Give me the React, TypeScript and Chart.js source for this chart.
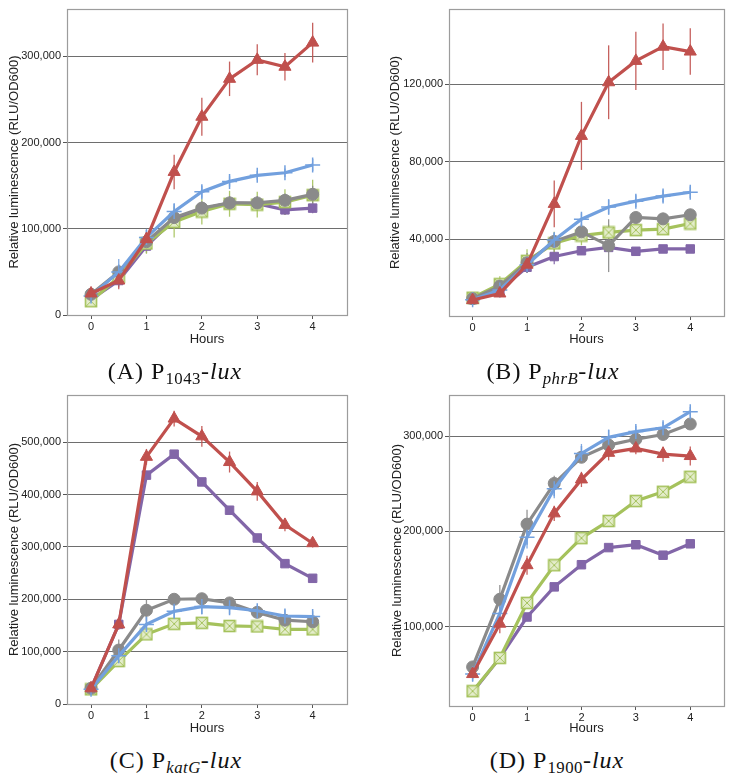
import React, { useEffect, useRef } from 'react';
import { Chart, registerables } from 'chart.js';

Chart.register(...registerables);

// ---------------- data ----------------
const hours = [0, 0.5, 1, 1.5, 2, 2.5, 3, 3.5, 4];
const hourTicks = [0, 1, 2, 3, 4];

// Panel A: P1043-lux
const aRed = [25000, 40000, 88000, 166000, 230000, 274000, 296000, 288000, 316000];
const aRedErr = [3000, 10000, 8000, 20000, 22000, 20000, 18000, 16000, 23000];
const aBlue = [22000, 50000, 90000, 120000, 143000, 155000, 162000, 165000, 174000];
const aBlueErr = [3000, 15000, 10000, 10000, 7000, 6000, 5000, 5000, 7000];
const aGray = [24000, 50000, 85000, 113000, 124000, 130000, 130000, 133000, 140000];
const aGrayErr = [3000, 8000, 8000, 8000, 8000, 8000, 8000, 8000, 10000];
const aGreen = [16000, 44000, 83000, 108000, 120000, 129000, 128000, 131000, 139000];
const aGreenErr = [3000, 10000, 12000, 18000, 15000, 15000, 15000, 15000, 18000];
const aPurple = [18000, 40000, 80000, 111000, 123000, 130000, 129000, 122000, 124000];
const aPurpleErr = [3000, 8000, 8000, 8000, 8000, 8000, 8000, 6000, 6000];
const aTicks = [0, 100000, 200000, 300000];

// Panel B: PphrB-lux
const bRed = [8800, 12200, 27000, 58300, 93300, 120900, 131900, 139200, 136700];
const bRedErr = [1000, 2000, 4000, 12000, 17500, 19000, 15000, 12000, 12000];
const bBlue = [9000, 14000, 27000, 39700, 50400, 56700, 59700, 62300, 64300];
const bBlueErr = [1000, 2000, 4000, 4000, 3000, 4000, 3000, 3000, 3000];
const bGray = [9500, 16000, 28000, 39000, 43900, 36800, 51300, 50600, 52700];
const bGrayErr = [1000, 2000, 5000, 4000, 4000, 13600, 2000, 1000, 1000];
const bGreen = [10000, 17000, 29000, 38000, 42000, 43600, 44800, 45300, 48200];
const bGreenErr = [1000, 4000, 6000, 6000, 5000, 4000, 3000, 3000, 3000];
const bPurple = [9000, 14000, 25700, 31200, 34200, 35900, 33900, 35100, 35100];
const bPurpleErr = [1000, 2000, 3000, 4000, 2000, 2000, 1000, 1000, 1000];
const bTicks = [40000, 80000, 120000];

// Panel C: PkatG-lux
const cRed = [30000, 152000, 472000, 545000, 511000, 462000, 406000, 342000, 307000];
const cRedErr = [5000, 10000, 15000, 15000, 20000, 20000, 18000, 12000, 8000];
const cBlue = [28000, 92000, 152000, 177000, 186000, 184000, 178000, 168000, 167000];
const cBlueErr = [8000, 20000, 20000, 20000, 15000, 12000, 10000, 12000, 10000];
const cGray = [30000, 103000, 179000, 200000, 201000, 193000, 175000, 160000, 157000];
const cGrayErr = [5000, 20000, 20000, 8000, 8000, 10000, 8000, 6000, 6000];
const cGreen = [28000, 82000, 133000, 153000, 155000, 149000, 148000, 142500, 142500];
const cGreenErr = [5000, 8000, 8000, 6000, 6000, 6000, 6000, 6000, 6000];
const cPurple = [30000, 152000, 437000, 477000, 424000, 370000, 317000, 268000, 240000];
const cPurpleErr = [5000, 8000, 8000, 8000, 6000, 6000, 6000, 6000, 6000];
const cTicks = [0, 100000, 200000, 300000, 400000, 500000];

// Panel D: P1900-lux
const dRed = [50000, 103000, 164500, 219000, 254700, 282700, 287300, 281400, 279300];
const dRedErr = [5000, 10000, 10000, 8000, 8000, 8000, 6000, 8000, 10000];
const dBlue = [50000, 113700, 194000, 245000, 282000, 299000, 305000, 309000, 326000];
const dBlueErr = [8000, 10000, 12000, 10000, 10000, 8000, 6000, 6000, 5000];
const dGray = [57500, 128700, 207700, 250500, 278000, 290800, 297000, 302000, 313000];
const dGrayErr = [5000, 15000, 15000, 8000, 5000, 5000, 5000, 5000, 5000];
const dGreen = [32000, 67000, 124800, 164500, 193000, 211000, 232000, 241700, 257500];
const dGreenErr = [3000, 3000, 4000, 3000, 3000, 3000, 3000, 3000, 3000];
const dPurple = [31000, 67000, 110000, 141700, 165000, 183000, 186000, 175000, 187000];
const dPurpleErr = [3000, 3000, 3000, 3000, 3000, 3000, 3000, 3000, 3000];
const dTicks = [100000, 200000, 300000];

// ---------------- styles ----------------
const RED = '#c0504d';
const BLUE = '#72a0de';
const GRAY = '#8a8a8a';
const GREEN = '#a5c25c';
const PURPLE = '#8266a8';
const FONT = '"Liberation Sans", Arial, sans-serif';

function boxX(): HTMLCanvasElement {
  const c = document.createElement('canvas');
  c.width = 14;
  c.height = 14;
  const g = c.getContext('2d')!;
  g.fillStyle = '#e4edcb';
  g.fillRect(1.5, 1.5, 11, 11);
  g.strokeStyle = GREEN;
  g.lineWidth = 1.6;
  g.strokeRect(1.5, 1.5, 11, 11);
  g.beginPath();
  g.moveTo(2, 2);
  g.lineTo(12, 12);
  g.moveTo(12, 2);
  g.lineTo(2, 12);
  g.lineWidth = 1;
  g.stroke();
  return c;
}

const errorBars = {
  id: 'errorBars',
  beforeDatasetsDraw(chart: any) {
    const ctx = chart.ctx;
    const ys = chart.scales.y;
    const xs = chart.scales.x;
    for (let i = chart.data.datasets.length - 1; i >= 0; i--) {
      const ds = chart.data.datasets[i];
      const errs: number[] = ds.errors;
      if (!errs) continue;
      ctx.save();
      ctx.strokeStyle = ds.borderColor;
      ctx.lineWidth = 1.3;
      ctx.globalAlpha = 0.9;
      ds.data.forEach((p: any, j: number) => {
        const px = xs.getPixelForValue(p.x);
        ctx.beginPath();
        ctx.moveTo(px, ys.getPixelForValue(p.y + errs[j]));
        ctx.lineTo(px, ys.getPixelForValue(p.y - errs[j]));
        ctx.stroke();
      });
      ctx.restore();
    }
  },
};

const frame = {
  id: 'frame',
  beforeDatasetsDraw(chart: any) {
    const { left, top, right, bottom } = chart.chartArea;
    const ctx = chart.ctx;
    ctx.save();
    ctx.strokeStyle = '#9c9c9c';
    ctx.lineWidth = 1.2;
    ctx.strokeRect(Math.round(left) + 0.5, Math.round(top) + 0.5, Math.round(right - left), Math.round(bottom - top));
    ctx.restore();
  },
};

type Series = { vals: number[]; errs: number[]; color: string; style: any; radius: number; bw: number };

type PanelDef = {
  left: number;
  top: number;
  w: number;
  h: number;
  area: { l: number; t: number; r: number; b: number };
  yMin: number;
  yMax: number;
  yTicks: number[];
  yTitleCenter: number;
  xTitleCenter: number;
  series: Series[];
};

function mkSeries(vals: number[], errs: number[], kind: string): Series {
  if (kind === 'red') return { vals, errs, color: RED, style: 'triangle', radius: 7, bw: 1 };
  if (kind === 'blue') return { vals, errs, color: BLUE, style: 'cross', radius: 7.5, bw: 1.5 };
  if (kind === 'gray') return { vals, errs, color: GRAY, style: 'circle', radius: 6, bw: 1 };
  if (kind === 'green') return { vals, errs, color: GREEN, style: 'boxX', radius: 6, bw: 1 };
  return { vals, errs, color: PURPLE, style: 'rect', radius: 6, bw: 1 };
}

function Panel({ def }: { def: PanelDef }) {
  const ref = useRef<HTMLCanvasElement>(null);
  useEffect(() => {
    const boxImg = boxX();
    const { area, w, h } = def;
    const chart = new Chart(ref.current!, {
      type: 'line',
      data: {
        datasets: def.series.map((s) => ({
          data: hours.map((x, i) => ({ x, y: s.vals[i] })),
          errors: s.errs,
          borderColor: s.color,
          backgroundColor: s.color,
          borderWidth: 3.2,
          pointStyle: s.style === 'boxX' ? boxImg : s.style,
          pointRadius: s.radius,
          pointBorderWidth: s.bw,
          pointBorderColor: s.color,
          pointBackgroundColor: s.color,
          tension: 0,
          fill: false,
          clip: false as any,
        })) as any,
      },
      options: {
        animation: false,
        responsive: false,
        events: [],
        layout: { padding: { left: 0, top: area.t, right: w - area.r, bottom: 0 } },
        plugins: { legend: { display: false }, tooltip: { enabled: false } },
        scales: {
          x: {
            type: 'linear',
            min: -0.434,
            max: 4.62,
            afterBuildTicks: (s: any) => {
              s.ticks = hourTicks.map((v) => ({ value: v }));
            },
            afterFit: (s: any) => {
              s.height = h - area.b;
              s.paddingLeft = 0;
              s.paddingRight = 0;
            },
            grid: { drawOnChartArea: false, drawTicks: true, tickLength: 4, tickColor: '#555', lineWidth: 1 },
            border: { display: false },
            ticks: { color: '#222', font: { family: FONT, size: 11 }, padding: 1, maxRotation: 0 },
            title: {
              display: true,
              text: 'Hours',
              color: '#222',
              font: { family: FONT, size: 13, lineHeight: 1.2 },
              padding: { top: 0, bottom: h - def.xTitleCenter - 7.8 },
            },
          },
          y: {
            type: 'linear',
            min: def.yMin,
            max: def.yMax,
            afterBuildTicks: (s: any) => {
              s.ticks = def.yTicks.map((v) => ({ value: v }));
            },
            afterFit: (s: any) => {
              s.width = area.l;
              s.paddingTop = 0;
              s.paddingBottom = 0;
            },
            grid: { drawOnChartArea: true, drawTicks: true, tickLength: 4, color: '#6e6e6e', tickColor: '#555', lineWidth: 1 },
            border: { display: false },
            ticks: {
              color: '#222',
              font: { family: FONT, size: 11 },
              padding: 2,
              callback: (v: any) => Number(v).toLocaleString('en-US'),
            },
            title: {
              display: true,
              text: 'Relative luminescence (RLU/OD600)',
              color: '#222',
              font: { family: FONT, size: 13, lineHeight: 1.2 },
              padding: { top: def.yTitleCenter - 7.8, bottom: 0 },
            },
          },
        },
      } as any,
      plugins: [frame, errorBars],
    });
    return () => chart.destroy();
  }, [def]);
  return (
    <canvas
      ref={ref}
      width={def.w}
      height={def.h}
      style={{ position: 'absolute', left: def.left, top: def.top, width: def.w, height: def.h }}
    />
  );
}

const panelA: PanelDef = {
  left: 0, top: 0, w: 366, h: 350,
  area: { l: 67, t: 6, r: 347, b: 315 },
  yMin: 0, yMax: 355000, yTicks: aTicks, yTitleCenter: 14, xTitleCenter: 339,
  series: [
    mkSeries(aRed, aRedErr, 'red'),
    mkSeries(aBlue, aBlueErr, 'blue'),
    mkSeries(aGray, aGrayErr, 'gray'),
    mkSeries(aGreen, aGreenErr, 'green'),
    mkSeries(aPurple, aPurpleErr, 'purple'),
  ],
};
const panelB: PanelDef = {
  left: 366, top: 0, w: 367, h: 350,
  area: { l: 83, t: 6, r: 361, b: 316 },
  yMin: 600, yMax: 158600, yTicks: bTicks, yTitleCenter: 29, xTitleCenter: 339,
  series: [
    mkSeries(bRed, bRedErr, 'red'),
    mkSeries(bBlue, bBlueErr, 'blue'),
    mkSeries(bGray, bGrayErr, 'gray'),
    mkSeries(bGreen, bGreenErr, 'green'),
    mkSeries(bPurple, bPurpleErr, 'purple'),
  ],
};
const panelC: PanelDef = {
  left: 0, top: 380, w: 366, h: 358,
  area: { l: 67, t: 15, r: 347, b: 324 },
  yMin: 0, yMax: 590000, yTicks: cTicks, yTitleCenter: 14, xTitleCenter: 348,
  series: [
    mkSeries(cRed, cRedErr, 'red'),
    mkSeries(cBlue, cBlueErr, 'blue'),
    mkSeries(cGray, cGrayErr, 'gray'),
    mkSeries(cGreen, cGreenErr, 'green'),
    mkSeries(cPurple, cPurpleErr, 'purple'),
  ],
};
const panelD: PanelDef = {
  left: 366, top: 380, w: 367, h: 358,
  area: { l: 83, t: 15, r: 361, b: 326 },
  yMin: 16400, yMax: 343500, yTicks: dTicks, yTitleCenter: 31, xTitleCenter: 348,
  series: [
    mkSeries(dRed, dRedErr, 'red'),
    mkSeries(dBlue, dBlueErr, 'blue'),
    mkSeries(dGray, dGrayErr, 'gray'),
    mkSeries(dGreen, dGreenErr, 'green'),
    mkSeries(dPurple, dPurpleErr, 'purple'),
  ],
};

const capStyle = (cx: number, top: number): React.CSSProperties => ({
  position: 'absolute',
  left: cx - 150,
  top,
  width: 300,
  textAlign: 'center',
  fontFamily: '"Liberation Serif", "Times New Roman", serif',
  fontSize: 24,
  letterSpacing: '1px',
  lineHeight: '24px',
  color: '#111',
  whiteSpace: 'nowrap',
});
const subStyle: React.CSSProperties = { fontSize: '0.7em', verticalAlign: '-0.28em', lineHeight: 0, letterSpacing: '0.5px' };

export default function App() {
  return (
    <div style={{ position: 'fixed', left: 0, top: 0, width: 733, height: 778, background: '#fff', overflow: 'hidden' }}>
      <Panel def={panelA} />
      <Panel def={panelB} />
      <Panel def={panelC} />
      <Panel def={panelD} />
      <div style={capStyle(175, 359)}>
        (A) P<span style={subStyle}>1043</span>-<i>lux</i>
      </div>
      <div style={capStyle(553, 359)}>
        (B) P<span style={subStyle}><i>phrB</i></span>-<i>lux</i>
      </div>
      <div style={capStyle(176, 748)}>
        (C) P<span style={subStyle}><i>katG</i></span>-<i>lux</i>
      </div>
      <div style={capStyle(557, 748)}>
        (D) P<span style={subStyle}>1900</span>-<i>lux</i>
      </div>
    </div>
  );
}
